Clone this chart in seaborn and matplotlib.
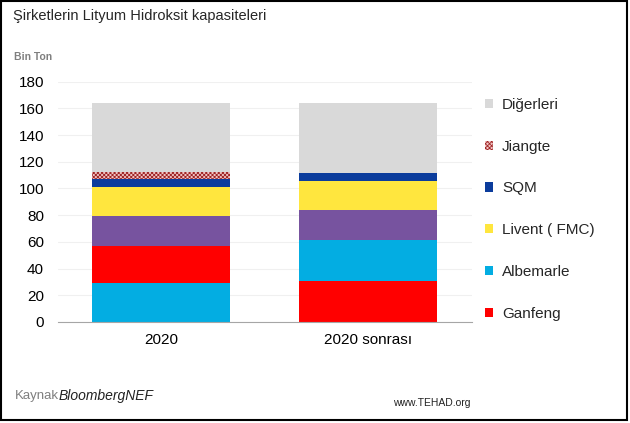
import numpy as np
import matplotlib
matplotlib.use("Agg")
import matplotlib.pyplot as plt
from matplotlib.patches import Patch, Rectangle
import seaborn as sns

# ------------------------------
# Data (Bin Ton)
# ------------------------------
categories = ["2020", "2020 sonrası"]
ganfeng = [28, 31]
albemarle = [29, 30]
tianqi = [22, 22.5]
livent = [22, 22]
sqm = [6, 6]
jiangte = [5, 0]
digerleri = [52, 52.5]

series = {
    "Ganfeng": ganfeng,
    "Albemarle": albemarle,
    "Tianqi": tianqi,
    "Livent ( FMC)": livent,
    "SQM": sqm,
    "Jiangte": jiangte,
    "Diğerleri": digerleri,
}
# stacking order (bottom -> top) differs between the two bars
stack_order = [
    ["Albemarle", "Ganfeng", "Tianqi", "Livent ( FMC)", "SQM", "Jiangte", "Diğerleri"],
    ["Ganfeng", "Albemarle", "Tianqi", "Livent ( FMC)", "SQM", "Jiangte", "Diğerleri"],
]
legend_order = ["Diğerleri", "Jiangte", "SQM", "Livent ( FMC)", "Albemarle", "Ganfeng"]

colors = {
    "Ganfeng": "#ff0000",
    "Albemarle": "#03ade2",
    "Tianqi": "#77539f",
    "Livent ( FMC)": "#ffe63e",
    "SQM": "#0b3c9c",
    "Jiangte": "#f2c4c4",
    "Diğerleri": "#d9d9d9",
}

sns.set_theme(style="white")
plt.rcParams["font.family"] = ["Liberation Sans", "DejaVu Sans"]
plt.rcParams["hatch.linewidth"] = 0.6

fig = plt.figure(figsize=(6.30, 4.23), dpi=100)
ax = fig.add_axes([0.092, 0.239, 0.657, 0.568])

for i, order in enumerate(stack_order):
    bottom = 0
    for name in order:
        val = series[name][i]
        if val > 0:
            if name == "Jiangte":
                ax.bar(i, val, bottom=bottom, width=0.667, color=colors[name],
                       edgecolor="#a02828", hatch="xxxxxxxx", linewidth=0)
            else:
                ax.bar(i, val, bottom=bottom, width=0.667, color=colors[name], linewidth=0)
        bottom += val

ax.set_xlim(-0.5, 1.5)
ax.set_ylim(0, 180)
ax.set_yticks(np.arange(0, 181, 20))
ax.set_xticks([0, 1])
ax.set_xticklabels(categories)
ax.set_xticks([-0.5, 0.5, 1.5], minor=True)
ax.tick_params(axis="x", which="major", length=0, labelsize=11, pad=8, colors="#000000")
ax.tick_params(axis="x", which="minor", length=5, width=0.8, color="#a6a6a6", direction="out")
ax.tick_params(axis="y", length=0, labelsize=11, pad=10, colors="#000000")
ax.grid(True, axis="y", color="#f0f0f0", linewidth=0.8)
ax.set_axisbelow(True)
for s in ["left", "right", "top"]:
    ax.spines[s].set_visible(False)
ax.spines["bottom"].set_color("#a6a6a6")
ax.spines["bottom"].set_linewidth(0.8)

# legend
handles = []
for name in legend_order:
    if name == "Jiangte":
        handles.append(Patch(facecolor=colors[name], edgecolor="#a02828", hatch="xxxxxxxx", linewidth=0, label=name))
    else:
        handles.append(Patch(facecolor=colors[name], linewidth=0, label=name))
fig.legend(handles=handles, loc="upper left", bbox_to_anchor=(0.757, 0.787), frameon=False,
           fontsize=11, handlelength=0.55, handleheight=0.55, handletextpad=0.6,
           labelspacing=1.82, borderpad=0)

# texts
fig.text(0.021, 0.962, "Şirketlerin Lityum Hidroksit kapasiteleri", fontsize=10.5, va="center", ha="left")
fig.text(0.022, 0.865, "Bin Ton", fontsize=7.5, color="#7f7f7f", fontweight="bold", va="center", ha="left")
fig.text(0.024, 0.063, "Kaynak", fontsize=9.5, color="#7f7f7f", va="center", ha="left")
fig.text(0.093, 0.063, "BloombergNEF", fontsize=10, style="italic", color="#222222", va="center", ha="left")
fig.text(0.624, 0.047, "www.TEHAD.org", fontsize=7.5, color="#222222", va="center", ha="left")

# outer frame
fig.patches.append(Rectangle((0.002, 0.007), 0.993, 0.99, transform=fig.transFigure,
                             fill=False, edgecolor="black", linewidth=1.5))

fig.savefig("out.png", dpi=100)
